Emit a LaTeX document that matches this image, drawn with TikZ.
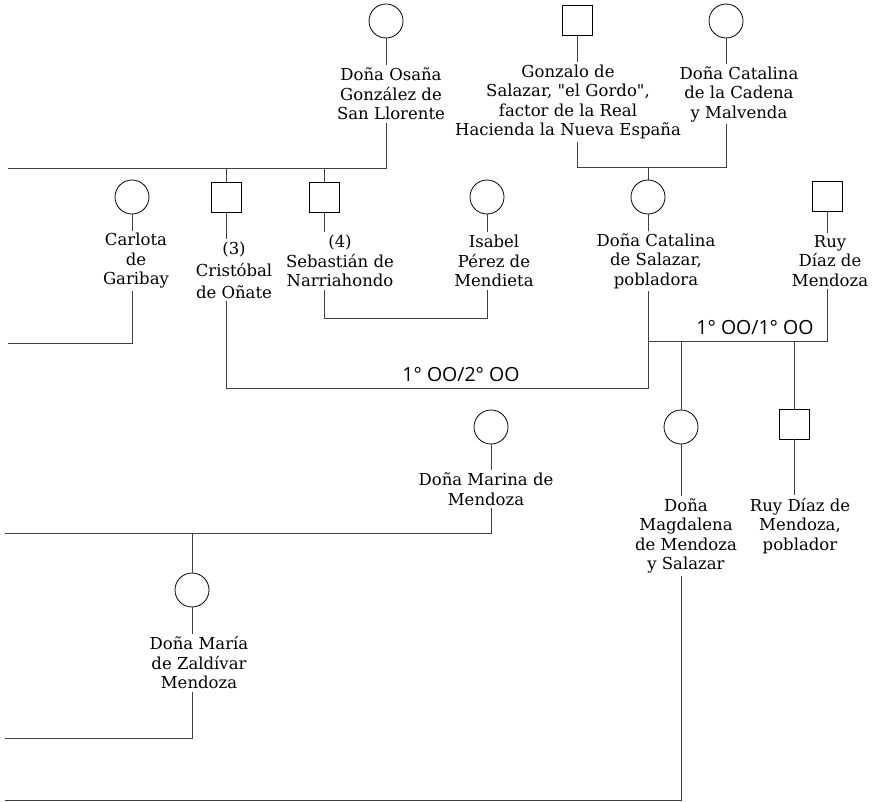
\documentclass[tikz,border=0pt]{standalone}
\usepackage{fontspec}
\setmainfont{DejaVu Serif}
\newfontfamily\pfont{DejaVu Serif}
\newfontfamily\marrfont{Open Sans}
\begin{document}
\begin{tikzpicture}[x=1pt,y=-1pt,
  fem/.style={circle,draw=black,line width=0.8pt,minimum size=34pt,inner sep=0pt},
  masc/.style={rectangle,draw=black,line width=0.8pt,minimum size=30pt,inner sep=0pt},
  plabel/.style={align=center,inner xsep=0pt,inner ysep=2.5pt,font=\pfont\fontsize{16.5}{19.5}\selectfont},
  marr/.style={inner sep=0pt,font=\marrfont\fontsize{19.5}{22}\selectfont},
  conn/.style={draw=black!75,line width=0.9pt}]
\useasboundingbox (0,0) rectangle (872,802);

% generation 1
\node[fem]  (osana)   at (386,21) {};
\node[plabel] (osanaL)  at (391,94) {Doña Osaña\\González de\\San Llorente};
\node[masc] (gonzalo) at (577,20) {};
\node[plabel] (gonzaloL) at (568,102) {Gonzalo de\\Salazar, "el Gordo",\\factor de la Real\\Hacienda la Nueva España};
\node[fem]  (cadena)  at (726,21) {};
\node[plabel] (cadenaL) at (739,94) {Doña Catalina\\de la Cadena\\y Malvenda};

% generation 2
\node[fem]  (carlota)   at (132,197) {};
\node[plabel] (carlotaL)  at (136,261) {Carlota\\de\\Garibay};
\node[masc] (cristobal) at (226,197) {};
\node[plabel,font=\pfont\fontsize{16.5}{22}\selectfont] (cristobalL) at (234,270) {(3)\\Cristóbal\\de Oñate};
\node[masc] (sebastian) at (324,197) {};
\node[plabel] (sebastianL) at (340,261) {(4)\\Sebastián de\\Narriahondo};
\node[fem]  (isabel)    at (487,197) {};
\node[plabel] (isabelL)   at (494,261) {Isabel\\Pérez de\\Mendieta};
\node[fem]  (catalina)  at (648,197) {};
\node[plabel] (catalinaL) at (656,261) {Doña Catalina\\de Salazar,\\pobladora};
\node[masc] (ruy)       at (827,196) {};
\node[plabel] (ruyL)      at (830,261) {Ruy\\Díaz de\\Mendoza};

% generation 3
\node[fem]  (marina)     at (491,427) {};
\node[plabel] (marinaL)    at (486,489) {Doña Marina de\\Mendoza};
\node[fem]  (magdalena)  at (681,427) {};
\node[plabel] (magdalenaL) at (686,536) {Doña\\Magdalena\\de Mendoza\\y Salazar};
\node[masc] (ruy2)       at (794,424) {};
\node[plabel] (ruy2L)      at (800,526) {Ruy Díaz de\\Mendoza,\\poblador};

% generation 4
\node[fem]  (maria)  at (192,590) {};
\node[plabel] (mariaL) at (199,663) {Doña María\\de Zaldívar\\Mendoza};

% marriage labels
\node[marr] (m12) at (461,375) {1° OO/2° OO};
\node[marr] (m11) at (755,328) {1° OO/1° OO};

% helper coordinates
\coordinate (a1) at (8,168);
\coordinate (gc) at (0,167);
\coordinate (c1) at (8,343);
\coordinate (si) at (0,318);
\coordinate (cc) at (0,388);
\coordinate (cr) at (0,341);
\coordinate (mm) at (5,533);
\coordinate (mz) at (5,738);
\coordinate (b1) at (5,800);

% symbol to label stems
\foreach \p in {osana,gonzalo,cadena,carlota,cristobal,sebastian,isabel,catalina,ruy,marina,magdalena,ruy2,maria}
  \draw[conn] (\p.south) -- (\p L.north -| \p);

% connectors
\draw[conn] (osanaL.south -| osana) |- (a1);
\draw[conn] (cristobal.north) -- (cristobal |- a1);
\draw[conn] (sebastian.north) -- (sebastian |- a1);

\draw[conn] (gonzaloL.south -| gonzalo) -- (gonzalo |- gc) -- (cadena |- gc) -- (cadenaL.south -| cadena);
\draw[conn] (catalina.north) -- (catalina |- gc);

\draw[conn] (carlotaL.south -| carlota) |- (c1);
\draw[conn] (sebastianL.south -| sebastian) -- (sebastian |- si) -- (isabel |- si) -- (isabelL.south -| isabel);
\draw[conn] (cristobalL.south -| cristobal) -- (cristobal |- cc) -- (catalina |- cc) -- (catalinaL.south -| catalina);
\draw[conn] (ruyL.south -| ruy) -- (ruy |- cr) -- (catalina |- cr);
\draw[conn] (magdalena.north) -- (magdalena |- cr);
\draw[conn] (ruy2.north) -- (ruy2 |- cr);

\draw[conn] (magdalenaL.south -| magdalena) |- (b1);
\draw[conn] (marinaL.south -| marina) |- (mm);
\draw[conn] (maria.north) -- (maria |- mm);
\draw[conn] (mariaL.south -| maria) |- (mz);
\end{tikzpicture}
\end{document}
